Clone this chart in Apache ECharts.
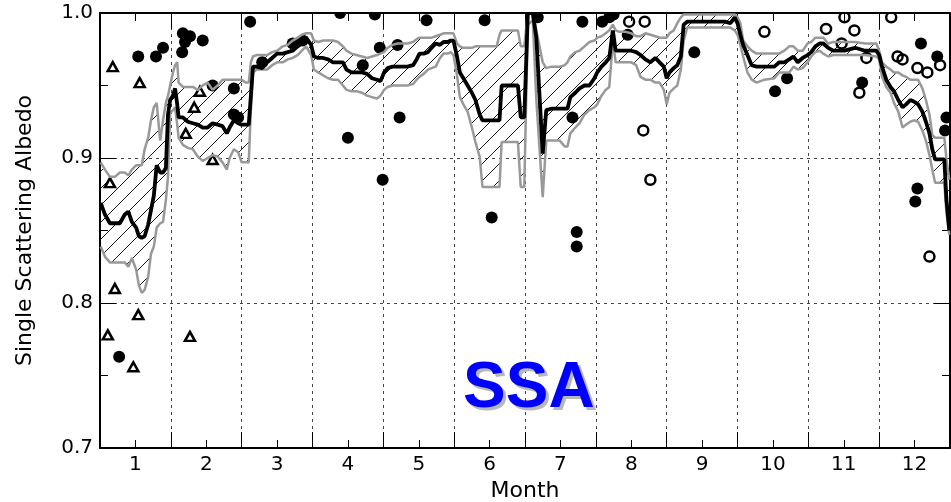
<!DOCTYPE html>
<html>
<head>
<meta charset="utf-8">
<script src="https://cdn.jsdelivr.net/npm/echarts@6.0.0/dist/echarts.min.js"></script>
<style>
  html, body { margin: 0; padding: 0; background: #ffffff; }
  #chart { width: 951px; height: 502px; }
</style>
</head>
<body>
<div id="chart"></div>
<script>
// Month position (fractional month, 1 = January centre) of each running sample
const monthX = [
  0.51,0.57,0.64,0.71,0.78,0.85,0.90,0.95,1.01,1.05,1.09,1.13,
  1.18,1.22,1.26,1.30,1.35,1.39,1.43,1.46,1.49,1.53,1.56,1.59,
  1.61,1.67,1.74,1.81,1.88,1.95,2.02,2.09,2.16,2.23,2.29,2.33,
  2.39,2.45,2.50,2.56,2.60,2.63,2.66,2.71,2.79,2.86,2.93,3.00,
  3.08,3.15,3.22,3.29,3.35,3.41,3.43,3.48,3.52,3.58,3.65,3.72,
  3.79,3.86,3.93,3.98,4.05,4.12,4.20,4.27,4.34,4.41,4.46,4.51,
  4.56,4.63,4.70,4.77,4.84,4.92,4.97,5.01,5.07,5.13,5.18,5.24,
  5.30,5.35,5.41,5.45,5.49,5.54,5.58,5.63,5.69,5.75,5.80,5.86,
  5.90,6.00,6.10,6.14,6.17,6.28,6.40,6.44,6.49,6.54,6.61,6.66,
  6.75,6.80,6.87,6.99,7.06,7.10,7.14,7.21,7.27,7.34,7.41,7.48,
  7.52,7.58,7.64,7.69,7.74,7.78,7.83,7.92,8.00,8.07,8.13,8.20,
  8.27,8.34,8.40,8.46,8.50,8.54,8.60,8.65,8.70,8.74,8.79,8.96,
  9.13,9.32,9.40,9.46,9.50,9.54,9.58,9.64,9.70,9.77,9.88,10.02,
  10.09,10.16,10.23,10.29,10.35,10.42,10.49,10.54,10.60,10.66,10.71,10.78,
  10.85,11.01,11.16,11.30,11.46,11.50,11.54,11.60,11.66,11.71,11.77,11.83,
  11.88,11.94,11.99,12.05,12.11,12.16,12.21,12.25,12.29,12.42,12.45,12.49
];

// Running central value of single scattering albedo
const meanSSA = [
  .869,.861,.855,.855,.855,.861,.863,.856,.852,.846,.845,.846,
  .854,.864,.874,.895,.890,.890,.893,.930,.940,.943,.948,.937,
  .928,.928,.925,.924,.923,.921,.921,.924,.923,.922,.917,.921,
  .926,.924,.923,.923,.923,.943,.963,.963,.962,.966,.969,.972,
  .972,.973,.974,.977,.979,.983,.983,.978,.970,.969,.969,.968,
  .966,.966,.966,.961,.959,.959,.959,.958,.955,.954,.953,.959,
  .962,.963,.963,.963,.963,.964,.968,.972,.972,.973,.976,.979,
  .978,.980,.980,.981,.981,.970,.959,.955,.950,.945,.940,.930,
  .926,.926,.926,.926,.950,.950,.950,.928,.928,1.000,1.000,.983,
  .903,.933,.934,.934,.934,.934,.942,.945,.948,.950,.950,.955,
  .959,.963,.966,.969,.988,.974,.974,.974,.974,.973,.971,.968,
  .966,.969,.966,.963,.955,.959,.962,.964,.970,.992,.994,.994,
  .994,.994,.993,.997,.993,.985,.978,.971,.964,.963,.963,.963,
  .966,.966,.968,.970,.966,.969,.971,.973,.977,.979,.979,.976,
  .974,.974,.976,.974,.974,.971,.963,.954,.949,.946,.940,.935,
  .937,.940,.939,.937,.932,.925,.917,.906,.899,.899,.871,.850
];

// Upper envelope of the spread
const upperSSA = [
  .897,.892,.887,.887,.890,.890,.888,.892,.895,.895,.895,.906,
  .914,.926,.935,.938,.912,.926,.938,.943,.950,.959,.964,.966,
  .952,.949,.949,.949,.947,.950,.952,.947,.950,.954,.954,.954,
  .954,.954,.954,.952,.952,.966,.970,.971,.971,.971,.973,.974,
  .977,.978,.981,.983,.985,.986,.986,.986,.981,.980,.981,.981,
  .981,.980,.977,.974,.972,.971,.970,.969,.970,.971,.972,.973,
  .976,.978,.979,.979,.979,.980,.982,.983,.983,.983,.983,.984,
  .985,.986,.986,.986,.986,.979,.977,.976,.976,.976,.977,.977,
  .977,.977,.977,.985,.988,.988,.988,.977,.977,1.000,1.000,.988,
  .966,.962,.963,.963,.964,.966,.970,.973,.974,.977,.980,.981,
  .983,.984,.986,.988,.992,.988,.987,.987,.986,.984,.984,.986,
  .985,.984,.983,.983,.983,.986,.988,.993,.997,.999,.999,.999,
  .999,.999,.999,.999,.997,.993,.981,.977,.974,.972,.972,.972,
  .972,.974,.977,.977,.974,.974,.979,.980,.983,.983,.983,.979,
  .980,.980,.980,.979,.979,.974,.966,.963,.961,.959,.959,.957,
  .956,.954,.954,.954,.948,.940,.930,.916,.914,.914,.899,.885
];

// Lower envelope of the spread
const lowerSSA = [
  .839,.832,.828,.828,.828,.828,.825,.831,.823,.812,.807,.809,
  .818,.834,.839,.852,.855,.856,.871,.887,.931,.933,.935,.923,
  .914,.909,.907,.906,.901,.898,.900,.902,.901,.897,.892,.900,
  .906,.904,.897,.897,.897,.933,.959,.961,.961,.961,.964,.966,
  .966,.968,.969,.971,.974,.977,.977,.971,.961,.959,.957,.955,
  .954,.954,.950,.947,.946,.946,.945,.943,.942,.941,.943,.947,
  .949,.950,.950,.950,.950,.951,.954,.956,.958,.961,.962,.963,
  .969,.972,.972,.973,.971,.957,.942,.937,.932,.921,.911,.901,
  .880,.880,.880,.880,.911,.911,.911,.880,.880,.992,.995,.940,
  .873,.912,.912,.912,.908,.908,.917,.921,.924,.930,.933,.935,
  .937,.943,.947,.949,.981,.966,.966,.966,.966,.964,.956,.954,
  .954,.952,.952,.947,.937,.945,.948,.950,.961,.981,.990,.990,
  .990,.990,.990,.988,.985,.978,.970,.959,.954,.952,.954,.955,
  .959,.959,.959,.963,.961,.962,.966,.970,.973,.974,.972,.970,
  .971,.971,.971,.971,.970,.968,.956,.949,.945,.938,.932,.921,
  .923,.925,.926,.925,.919,.912,.902,.892,.883,.883,.862,.847
];

// Individual retrievals: [month, SSA]
const filledPoints = [
  [0.77,0.763],[1.04,0.970],[1.29,0.970],[1.39,0.976],[1.67,0.986],[1.77,0.984],
  [1.70,0.980],[1.66,0.973],[1.95,0.981],[2.09,0.950],[2.39,0.948],[2.39,0.930],
  [2.45,0.928],[2.62,0.994],[2.79,0.966],[3.22,0.979],[3.36,0.981],[3.89,1.000],
  [4.00,0.914],[4.21,0.964],[4.38,0.999],[4.45,0.976],[4.49,0.885],[4.70,0.978],
  [4.73,0.928],[5.11,0.995],[5.93,0.995],[6.03,0.859],[6.68,0.997],[7.17,0.928],
  [7.23,0.849],[7.23,0.839],[7.31,0.994],[7.59,0.994],[7.69,0.997],[7.75,0.999],
  [7.95,0.985],[8.89,0.973],[10.03,0.946],[10.20,0.955],[11.26,0.952],[12.09,0.979],
  [12.32,0.970],[12.04,0.879],[12.01,0.870],[12.45,0.928],[12.43,0.919]
];
const openPoints = [
  [7.97,0.994],[8.19,0.994],[8.17,0.919],[8.27,0.885],[9.88,0.987],[10.75,0.989],
  [11.01,0.997],[11.15,0.988],[10.97,0.979],[11.22,0.945],[11.32,0.969],[11.67,0.997],
  [11.76,0.970],[11.83,0.968],[12.04,0.962],[12.18,0.959],[12.21,0.832],[12.36,0.964]
];
const trianglePoints = [
  [0.68,0.963],[1.06,0.952],[1.91,0.946],[1.83,0.935],[1.71,0.917],[2.09,0.899],
  [0.64,0.883],[0.71,0.810],[1.04,0.792],[0.61,0.778],[0.97,0.756],[1.77,0.777]
];

const pairs = (ys) => monthX.map((m, i) => [m, ys[i]]);

// Diagonal "/" hatch tile for the spread band
function hatchTile() {
  const s = 17;
  const c = document.createElement('canvas');
  c.width = s; c.height = s;
  const g = c.getContext('2d');
  g.strokeStyle = '#000';
  g.lineWidth = 0.9;
  g.beginPath();
  g.moveTo(0, s); g.lineTo(s, 0);
  g.moveTo(-2, 2); g.lineTo(2, -2);
  g.moveTo(s - 2, s + 2); g.lineTo(s + 2, s - 2);
  g.stroke();
  return c;
}
const hatch = hatchTile();

// Band between the lower and upper envelopes, drawn as one polygon
function renderSpread(params, api) {
  const pts = [];
  for (let i = 0; i < monthX.length; i++) pts.push(api.coord([monthX[i], upperSSA[i]]));
  for (let i = monthX.length - 1; i >= 0; i--) pts.push(api.coord([monthX[i], lowerSSA[i]]));
  return {
    type: 'polygon',
    shape: { points: pts },
    style: { fill: { image: hatch, repeat: 'repeat' }, stroke: null }
  };
}

const FONT = 'DejaVu Sans';
const dotted = { color: '#444', width: 1, type: [3, 4] };
const tickStyle = { color: '#000', width: 1 };
const spine = { show: true, onZero: false, lineStyle: { color: '#000', width: 2 } };
const monthLabel = (v) => Math.abs(v - Math.round(v)) < 1e-6 ? String(Math.round(v)) : '';

const gridBox = { left: 100, top: 13, width: 850, height: 435, containLabel: false, outerBoundsMode: 'none' };

const chart = echarts.init(document.getElementById('chart'), null, { renderer: 'canvas' });
chart.setOption({
  animation: false,
  backgroundColor: '#ffffff',
  grid: [Object.assign({}, gridBox), Object.assign({}, gridBox)],
  xAxis: [
    {
      gridIndex: 0, type: 'value', position: 'bottom', min: 0.5, max: 12.5, interval: 0.5,
      axisLine: spine,
      axisTick: { show: true, inside: true, length: 8, lineStyle: tickStyle },
      axisLabel: { show: true, margin: 7, fontSize: 20, fontFamily: FONT, color: '#000', formatter: monthLabel },
      splitLine: { show: false },
      name: 'Month', nameLocation: 'middle', nameGap: 31,
      nameTextStyle: { fontSize: 22, fontFamily: FONT, color: '#000' }
    },
    {
      gridIndex: 0, type: 'value', position: 'top', min: 0.5, max: 12.5, interval: 0.5,
      axisLine: spine,
      axisTick: { show: true, inside: true, length: 8, lineStyle: tickStyle },
      axisLabel: { show: false },
      splitLine: { show: false }
    },
    {
      // month boundaries (half-month positions) with long ticks and dotted grid
      gridIndex: 1, type: 'value', position: 'bottom', min: 0, max: 12, interval: 1,
      axisLine: { show: false },
      axisTick: { show: true, inside: true, length: 16, lineStyle: tickStyle },
      axisLabel: { show: false },
      splitLine: { show: true, lineStyle: dotted }
    },
    {
      gridIndex: 1, type: 'value', position: 'top', min: 0, max: 12, interval: 1,
      axisLine: { show: false },
      axisTick: { show: true, inside: true, length: 16, lineStyle: tickStyle },
      axisLabel: { show: false },
      splitLine: { show: false }
    }
  ],
  yAxis: [
    {
      gridIndex: 0, type: 'value', position: 'left', min: 0.7, max: 1.0, interval: 0.1,
      axisLine: spine,
      axisTick: { show: true, inside: true, length: 16, lineStyle: tickStyle },
      minorTick: { show: true, splitNumber: 2, length: 8, lineStyle: tickStyle },
      axisLabel: { show: true, margin: 7, fontSize: 20, fontFamily: FONT, color: '#000', formatter: (v) => v.toFixed(1) },
      splitLine: { show: true, lineStyle: dotted },
      name: 'Single Scattering Albedo', nameLocation: 'middle', nameGap: 64,
      nameTextStyle: { fontSize: 22, fontFamily: FONT, color: '#000' }
    },
    {
      gridIndex: 0, type: 'value', position: 'right', min: 0.7, max: 1.0, interval: 0.1,
      axisLine: spine,
      axisTick: { show: true, inside: true, length: 16, lineStyle: tickStyle },
      minorTick: { show: true, splitNumber: 2, length: 8, lineStyle: tickStyle },
      axisLabel: { show: false },
      splitLine: { show: false }
    },
    { gridIndex: 1, type: 'value', show: false, min: 0, max: 1 }
  ],
  series: [
    {
      name: 'spread', type: 'custom', xAxisIndex: 0, yAxisIndex: 0,
      data: [[monthX[0], lowerSSA[0]]], renderItem: renderSpread, silent: true, clip: true, z: 1
    },
    {
      name: 'triangles', type: 'scatter', xAxisIndex: 0, yAxisIndex: 0,
      data: trianglePoints, symbol: 'triangle', symbolSize: [10, 9],
      itemStyle: { color: '#ffffff', borderColor: '#000', borderWidth: 2.5, opacity: 1 }, z: 2
    },
    {
      name: 'open', type: 'scatter', xAxisIndex: 0, yAxisIndex: 0,
      data: openPoints, symbol: 'circle', symbolSize: 10,
      itemStyle: { color: 'rgba(255,255,255,0)', borderColor: '#000', borderWidth: 2.5, opacity: 1 }, z: 2
    },
    {
      name: 'filled', type: 'scatter', xAxisIndex: 0, yAxisIndex: 0,
      data: filledPoints, symbol: 'circle', symbolSize: 12,
      itemStyle: { color: '#000', opacity: 1 }, z: 2
    },
    {
      name: 'upper', type: 'line', xAxisIndex: 0, yAxisIndex: 0,
      data: pairs(upperSSA), symbol: 'none',
      lineStyle: { color: '#999999', width: 2.5 }, z: 3
    },
    {
      name: 'lower', type: 'line', xAxisIndex: 0, yAxisIndex: 0,
      data: pairs(lowerSSA), symbol: 'none',
      lineStyle: { color: '#999999', width: 2.5 }, z: 3
    },
    {
      name: 'SSA', type: 'line', xAxisIndex: 0, yAxisIndex: 0,
      data: pairs(meanSSA), symbol: 'none',
      lineStyle: { color: '#000000', width: 3.8 }, z: 4
    }
  ],
  graphic: [
    { type: 'rect', shape: { x: 101, y: 0, width: 850, height: 12 }, style: { fill: '#ffffff' }, z: 100 },
    {
      type: 'text', x: 466, y: 392, z: 50,
      style: { text: 'SSA', font: 'bold 64px "Liberation Sans"', fill: '#b8b8b8', align: 'left', verticalAlign: 'middle' }
    },
    {
      type: 'text', x: 463, y: 389, z: 51,
      style: { text: 'SSA', font: 'bold 64px "Liberation Sans"', fill: '#0000ff', align: 'left', verticalAlign: 'middle' }
    }
  ]
});
</script>
</body>
</html>
